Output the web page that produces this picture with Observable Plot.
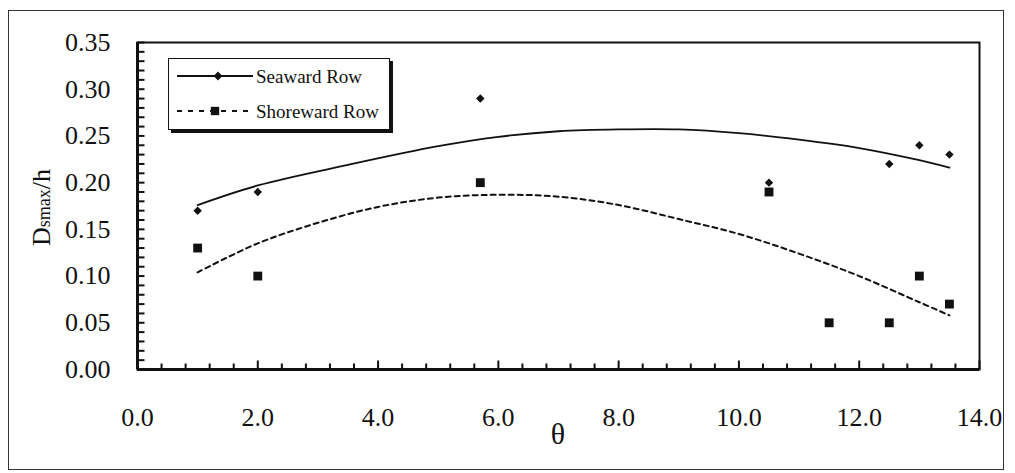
<!DOCTYPE html>
<html><head><meta charset="utf-8">
<script src="https://cdn.jsdelivr.net/npm/d3@7"></script>
<script src="https://cdn.jsdelivr.net/npm/@observablehq/plot@0.6"></script>
<style>
html,body{margin:0;padding:0;background:#fff;}
#wrap{position:relative;width:1015px;height:473px;overflow:hidden;background:#fff;}
#wrap svg.main{position:absolute;left:0;top:0;}
#wrap svg, #wrap svg text{font-family:"Liberation Serif","Times New Roman",serif !important;}
#outer{position:absolute;left:8px;top:10px;width:996px;height:460px;border:1.5px solid #333;box-sizing:border-box;}
#legend{position:absolute;left:168px;top:58px;width:222px;height:72px;border:1.5px solid #111;box-sizing:border-box;background:#fff;box-shadow:3px 3px 0 #111;}
#legend svg{position:absolute;left:0;top:0;}
</style></head>
<body><div id="wrap"><div id="outer"></div></div>
<script>
// Observed points
const thetaSea = [1.0, 2.0, 5.7, 10.5, 12.5, 13.0, 13.5];
const dSea = [0.17, 0.19, 0.29, 0.20, 0.22, 0.24, 0.23];
const thetaShore = [1.0, 2.0, 5.7, 10.5, 11.5, 12.5, 13.0, 13.5];
const dShore = [0.13, 0.10, 0.20, 0.19, 0.05, 0.05, 0.10, 0.07];
// Trend curves
const trendSeaTheta = [1.0, 2.0, 3.5, 5.0, 6.0, 7.0, 8.0, 9.0, 10.0, 11.0, 12.0, 13.0, 13.5];
const trendSeaD = [0.176, 0.197, 0.219, 0.239, 0.249, 0.255, 0.257, 0.257, 0.253, 0.246, 0.237, 0.224, 0.216];
const trendShoreTheta = [1.0, 2.0, 3.0, 4.0, 5.0, 6.0, 7.0, 8.0, 9.0, 10.0, 11.0, 12.0, 13.0, 13.5];
const trendShoreD = [0.104, 0.135, 0.157, 0.174, 0.184, 0.187, 0.185, 0.176, 0.161, 0.145, 0.124, 0.100, 0.072, 0.058];
// Tick labels
const xTicks = [0, 2, 4, 6, 8, 10, 12, 14];
const yTicks = [0, 0.05, 0.10, 0.15, 0.20, 0.25, 0.30, 0.35];
const xMinor = d3.range(0, 36).map(i => +(i * 0.4).toFixed(1));
const yMinor = d3.range(0, 36).map(i => i / 100);
const seriesNames = ["Seaward Row", "Shoreward Row"];

const W = 1015, H = 473, mL = 137, mR = 36, mT = 42, mB = 104;

const sea = thetaSea.map((t, i) => ({t, d: dSea[i]}));
const shore = thetaShore.map((t, i) => ({t, d: dShore[i]}));
const seaTrend = trendSeaTheta.map((t, i) => ({t, d: trendSeaD[i]}));
const shoreTrend = trendShoreTheta.map((t, i) => ({t, d: trendShoreD[i]}));

// tick-shaped symbols (fixed pixel length, inward)
const tickRight = {draw(ctx) { ctx.moveTo(0, 0); ctx.lineTo(7, 0); }};
const tickUpShort = {draw(ctx) { ctx.moveTo(0, 0); ctx.lineTo(0, -6); }};
const tickUpLong = {draw(ctx) { ctx.moveTo(0, 0); ctx.lineTo(0, -9); }};

const chart = Plot.plot({
  width: W, height: H,
  marginLeft: mL, marginRight: mR, marginTop: mT, marginBottom: mB,
  style: {fontFamily: "Liberation Serif, serif", color: "#111", background: "transparent"},
  x: {domain: [0, 14]},
  y: {domain: [0, 0.35]},
  marks: [
    Plot.dot(yMinor, {x: 0, y: d => d, symbol: tickRight, stroke: "#111", strokeWidth: 2, fill: "none"}),
    Plot.dot(xMinor.filter((v, i) => i % 5 !== 0), {x: d => d, y: 0, symbol: tickUpShort, stroke: "#111", strokeWidth: 2, fill: "none"}),
    Plot.dot(xMinor.filter((v, i) => i % 5 === 0), {x: d => d, y: 0, symbol: tickUpLong, stroke: "#111", strokeWidth: 2, fill: "none"}),
    Plot.frame({stroke: "#111", strokeWidth: 2}),
    Plot.ruleX([0], {stroke: "#111", strokeWidth: 3}),
    Plot.ruleY([0], {stroke: "#111", strokeWidth: 3}),
    Plot.axisY({ticks: yTicks, tickFormat: d3.format(".2f"), tickSize: 0, tickPadding: 27, fontSize: 26, label: null}),
    Plot.axisX({ticks: xTicks, tickFormat: d3.format(".1f"), tickSize: 0, tickPadding: 38, fontSize: 26, label: null}),
    Plot.line(seaTrend, {x: "t", y: "d", curve: "catmull-rom", stroke: "#111", strokeWidth: 1.8}),
    Plot.line(shoreTrend, {x: "t", y: "d", curve: "catmull-rom", stroke: "#111", strokeWidth: 2, strokeDasharray: "5,4"}),
    Plot.dot(sea, {x: "t", y: "d", symbol: "diamond2", r: 3.8, fill: "#111", stroke: "none"}),
    Plot.dot(shore, {x: "t", y: "d", symbol: "square", r: 5, fill: "#111", stroke: "none"})
  ]
});
chart.classList.add("main");
document.getElementById("wrap").appendChild(chart);

const svg = d3.select(chart);
const xs = chart.scale("x"), ys = chart.scale("y");
// x-axis title
svg.append("text")
  .attr("x", (xs.apply(0) + xs.apply(14)) / 2)
  .attr("y", ys.apply(0) + 75)
  .attr("text-anchor", "middle")
  .attr("font-size", 30)
  .attr("fill", "#111")
  .text("θ");
// y-axis title
const yt = svg.append("text")
  .attr("transform", `translate(50,${ys.apply(0.175) + 2}) rotate(-90)`)
  .attr("text-anchor", "middle")
  .attr("font-size", 26)
  .attr("fill", "#111");
yt.append("tspan").text("D");
yt.append("tspan").attr("font-size", 18).text("smax");
yt.append("tspan").text("/h");

// Legend
const leg = d3.select("#wrap").append("div").attr("id", "legend");
const ls = leg.append("svg").attr("width", 219).attr("height", 69);
const rows = [
  {name: seriesNames[0], y: 17, dash: null, sym: d3.symbolDiamond2, size: 50},
  {name: seriesNames[1], y: 52, dash: "5,6", sym: d3.symbolSquare, size: 70}
];
rows.forEach((r, i) => {
  ls.append("line").attr("x1", 8).attr("x2", 84).attr("y1", r.y).attr("y2", r.y)
    .attr("stroke", "#111").attr("stroke-width", r.dash ? 2 : 1.8)
    .attr("stroke-dasharray", r.dash);
  ls.append("path").attr("d", d3.symbol(r.sym, r.size)())
    .attr("transform", `translate(${i ? 46 : 49},${r.y})`).attr("fill", "#111");
  ls.append("text").attr("x", 87).attr("y", r.y).attr("dy", "0.35em")
    .attr("font-size", 19).attr("fill", "#111").text(r.name);
});
</script>
</body></html>
